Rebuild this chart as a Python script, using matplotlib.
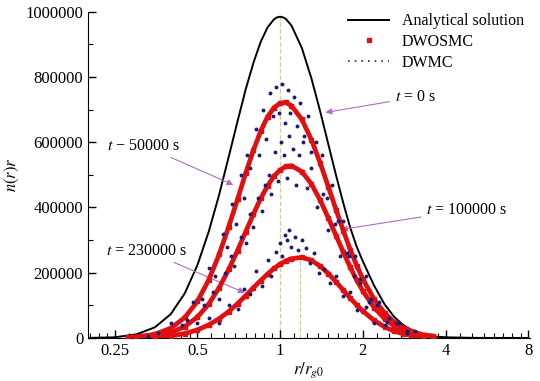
import numpy as np
import matplotlib
matplotlib.use("Agg")
import matplotlib.pyplot as plt
from matplotlib.lines import Line2D
from matplotlib.ticker import LogLocator, MultipleLocator, NullFormatter

plt.rcParams['font.family'] = ['Liberation Serif', 'DejaVu Serif']
plt.rcParams['mathtext.fontset'] = 'stix'

# analytical solution (t = 0 s)
r_exact = [0.2, 0.25, 0.3, 0.35, 0.4, 0.45, 0.5, 0.55, 0.6, 0.65, 0.7, 0.75, 0.8, 0.85,
           0.9, 0.95, 0.975, 1.0, 1.025, 1.05, 1.1, 1.2, 1.3, 1.4, 1.5, 1.6, 1.7, 1.8, 1.9,
           2.0, 2.2, 2.4, 2.6, 2.8, 3.0, 3.3, 3.6, 4.0, 5.0, 6.0, 8.0]
n_exact = [0, 2000, 11000, 32500, 73000, 137000, 223000, 326000, 439000, 555000, 664000,
           763000, 844000, 908000, 952000, 977000, 983000, 985000, 983000, 978000, 958000,
           889000, 796000, 694000, 592000, 497000, 412000, 338000, 280000, 235000, 160000,
           103000, 65000, 40000, 25000, 12000, 5000, 2000, 300, 0, 0]

# DWOSMC results
r_mc = [0.28, 0.3, 0.35, 0.4, 0.45, 0.5, 0.55, 0.6, 0.65, 0.7, 0.75, 0.8, 0.85, 0.9, 0.95,
        1.0, 1.05, 1.1, 1.2, 1.3, 1.4, 1.5, 1.6, 1.7, 1.8, 1.9, 2.0, 2.2, 2.4, 2.6, 2.8,
        3.0, 3.3, 3.6]
n_50000 = [1500, 3200, 11300, 29700, 62700, 112000, 178000, 256000, 341000, 425000, 506000,
           576000, 634000, 678000, 706000, 720000, 722000, 712000, 670000, 608000, 536000,
           462000, 392000, 328000, 271000, 222000, 181000, 118000, 76500, 49000, 31500,
           20000, 10300, 5400]
n_100000 = [800, 1600, 5900, 16000, 35000, 64000, 104000, 154000, 210000, 268000, 326000,
            380000, 428000, 466000, 496000, 515000, 526000, 528000, 510000, 472000, 422000,
            367000, 313000, 262000, 217000, 177000, 144000, 93000, 59000, 37000, 23000,
            14400, 7000, 3500]
n_230000 = [400, 700, 2400, 6400, 13500, 24600, 40000, 59000, 81000, 105000, 130000,
            154000, 176000, 196000, 213000, 226500, 236500, 243000, 247000, 238000, 220000,
            197000, 171500, 146000, 122000, 101000, 82500, 53500, 34000, 21000, 13000,
            8000, 3800, 1800]

# DWMC results (scattered)
r_dw = [0.33, 0.36, 0.40, 0.44, 0.48, 0.52, 0.55, 0.58, 0.62, 0.64, 0.67, 0.69, 0.72, 0.74,
        0.76, 0.78, 0.82, 0.84, 0.87, 0.89, 0.92, 0.94, 0.97, 0.99, 1.02, 1.04, 1.07, 1.09,
        1.12, 1.15, 1.18, 1.22, 1.26, 1.3, 1.35, 1.42, 1.48, 1.55, 1.62, 1.7, 1.78, 1.88,
        1.95, 2.05, 2.15, 2.3, 2.5, 2.7, 2.9, 3.1,
        0.46, 0.5, 0.53, 0.57, 0.6, 0.63, 0.66, 0.68, 0.72, 0.75, 0.78, 0.8, 0.83, 0.86,
        0.88, 0.91, 0.93, 0.96, 0.98, 1.01, 1.03, 1.06, 1.08, 1.11, 1.14, 1.17, 1.21, 1.25,
        1.3, 1.36, 1.43, 1.5, 1.58, 1.65, 1.75, 1.85, 1.95, 2.1, 2.25, 2.45, 2.65, 2.9,
        0.55, 0.6, 0.65, 0.7, 0.74, 0.78, 0.82, 0.86, 0.9, 0.93, 0.97, 1.0, 1.02, 1.04,
        1.06, 1.08, 1.1, 1.13, 1.16, 1.2, 1.24, 1.28, 1.33, 1.38, 1.45, 1.52, 1.6, 1.7,
        1.8, 1.9, 2.05, 2.2, 2.4]
n_dw = [5000, 15000, 45000, 40000, 110000, 120000, 215000, 190000, 320000, 280000, 410000,
        350000, 500000, 430000, 560000, 520000, 640000, 560000, 700000, 610000, 750000,
        680000, 770000, 690000, 780000, 660000, 760000, 690000, 740000, 650000, 720000,
        620000, 680000, 570000, 600000, 560000, 430000, 470000, 360000, 360000, 250000,
        250000, 180000, 190000, 120000, 110000, 60000, 45000, 20000, 22000,
        55000, 45000, 100000, 140000, 120000, 200000, 250000, 220000, 310000, 290000,
        380000, 340000, 430000, 390000, 470000, 500000, 440000, 570000, 480000, 600000,
        560000, 490000, 620000, 580000, 470000, 560000, 600000, 460000, 520000, 400000,
        440000, 330000, 350000, 250000, 260000, 190000, 170000, 110000, 100000, 50000,
        45000, 15000,
        60000, 45000, 100000, 90000, 150000, 135000, 205000, 160000, 240000, 190000,
        265000, 290000, 250000, 315000, 300000, 330000, 280000, 310000, 270000, 300000,
        275000, 230000, 260000, 200000, 210000, 170000, 190000, 130000, 140000, 85000,
        95000, 45000, 40000]

x_ticks = [0.25, 0.5, 1, 2, 4, 8]
x_tick_labels = ['0.25', '0.5', '1', '2', '4', '8']

fig = plt.figure(figsize=(5.4, 3.81), dpi=100)
ax = fig.add_axes([0.163, 0.113, 0.818, 0.856])

# guide lines at the peaks
ax.plot([1.0, 1.0], [0, 985000], ls='--', color='#d8c8a0', lw=0.9, zorder=1)
ax.plot([1.18, 1.18], [0, 247000], ls='--', color='#d8c8a0', lw=0.9, zorder=1)

ax.plot(r_exact, n_exact, color='black', lw=1.4, zorder=3)
for n in (n_50000, n_100000, n_230000):
    ax.plot(r_mc, n, color='#e01010', lw=3.4, marker='s', ms=3.4, zorder=4)
ax.plot(r_dw, n_dw, ls='none', marker='o', ms=1.8, color='#1c1c78', zorder=5)

ax.set_xscale('log', base=2)
ax.set_xlim(0.2, 8.1)
ax.set_ylim(0, 1000000)
ax.set_xticks(x_ticks)
ax.set_xticklabels(x_tick_labels)
ax.xaxis.set_minor_locator(LogLocator(base=2.0, subs=np.arange(1.125, 2.0, 0.125)))
ax.xaxis.set_minor_formatter(NullFormatter())
ax.yaxis.set_major_locator(MultipleLocator(200000))
ax.yaxis.set_minor_locator(MultipleLocator(100000))
ax.ticklabel_format(axis='y', style='plain', useOffset=False)
ax.tick_params(which='both', direction='in', labelsize=12)
ax.tick_params(which='major', length=6, width=1)
ax.tick_params(which='minor', length=3.5, width=0.8)
for s in ('top', 'right'):
    ax.spines[s].set_visible(False)

ax.set_xlabel('$r/r_{g0}$', fontsize=12, labelpad=1)
ax.set_ylabel('$n(r)r$', fontsize=12, labelpad=3)

arrow = dict(arrowstyle='-|>', color='#b468c8', lw=0.8, mutation_scale=9)
ax.annotate('$t$ = 0 s', xy=(1.43, 690000), xytext=(2.62, 738000),
            fontsize=11.5, va='center', arrowprops=arrow)
ax.annotate('$t$ − 50000 s', xy=(0.69, 466000), xytext=(0.235, 590000),
            fontsize=11.5, va='center', arrowprops=arrow)
ax.annotate('$t$ = 100000 s', xy=(1.63, 331000), xytext=(3.4, 393000),
            fontsize=11.5, va='center', arrowprops=arrow)
ax.annotate('$t$ = 230000 s', xy=(0.76, 135000), xytext=(0.232, 268000),
            fontsize=11.5, va='center', arrowprops=arrow)

handles = [Line2D([], [], color='black', lw=1.4),
           Line2D([], [], ls='none', marker='s', ms=3, color='#e01010'),
           Line2D([], [], ls=(0, (1, 3)), color='#1c1c78', lw=1.2)]
ax.legend(handles, ['Analytical solution', 'DWOSMC', 'DWMC'], loc='upper right',
          bbox_to_anchor=(1.02, 1.04), frameon=False, fontsize=11.5,
          handlelength=2.6, labelspacing=0.3)

fig.savefig('out.png', dpi=100)
